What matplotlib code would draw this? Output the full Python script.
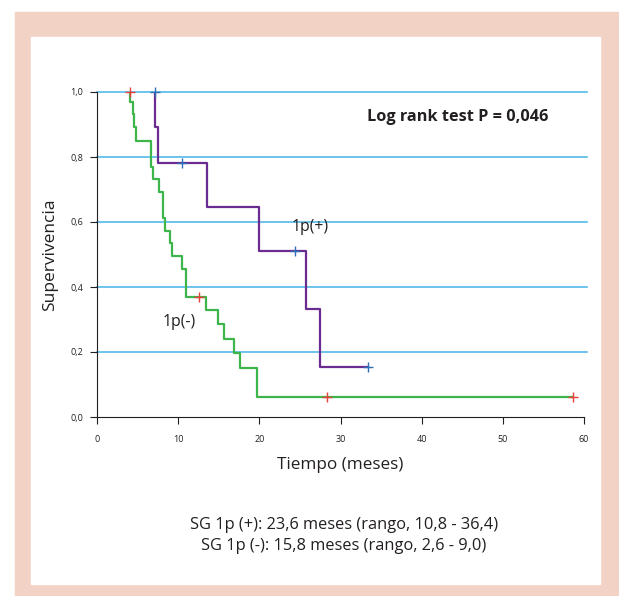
import matplotlib.pyplot as plt
from matplotlib.patches import Rectangle

plt.rcParams['font.family'] = ['Open Sans', 'DejaVu Sans']

# Kaplan-Meier steps, 1p(+)
pos_time: list[float] = [7.2, 7.2, 7.5, 13.5, 20.0, 25.8, 27.5, 33.4]
pos_surv: list[float] = [1.0, 0.893, 0.782, 0.645, 0.511, 0.331, 0.154, 0.154]
pos_cens_time: list[float] = [7.2, 10.5, 24.4, 33.4]
pos_cens_surv: list[float] = [1.0, 0.782, 0.511, 0.154]

# Kaplan-Meier steps, 1p(-)
neg_time: list[float] = [4.07, 4.07, 4.4, 4.6, 4.8, 6.63, 6.9, 7.6, 8.07, 8.4, 9.05, 9.3,
                         10.5, 10.95, 13.4, 14.85, 15.6, 16.9, 17.6, 19.7, 58.6]
neg_surv: list[float] = [1.0, 0.970, 0.931, 0.891, 0.849, 0.770, 0.733, 0.692, 0.613, 0.573,
                         0.534, 0.495, 0.454, 0.370, 0.329, 0.285, 0.240, 0.196, 0.152, 0.062, 0.062]
neg_cens_time: list[float] = [4.07, 12.6, 28.3, 58.6]
neg_cens_surv: list[float] = [1.0, 0.370, 0.062, 0.062]

y_ticks: list[float] = [0.0, 0.2, 0.4, 0.6, 0.8, 1.0]
y_labels: list[str] = ["0,0", "0,2", "0,4", "0,6", "0,8", "1,0"]
x_ticks: list[int] = [0, 10, 20, 30, 40, 50, 60]

W, H = 619, 596
fig = plt.figure(figsize=(W / 100, H / 100), dpi=100)

# pink frame
fig.patches.append(Rectangle((15 / W, 0), (W - 15) / W, (H - 12) / H,
                             transform=fig.transFigure, color="#f2d2c4", zorder=-2))
fig.patches.append(Rectangle((31 / W, (H - 584) / H), (600 - 31) / W, (584 - 37) / H,
                             transform=fig.transFigure, color="white", zorder=-1))

ax = fig.add_axes([97 / W, (H - 417) / H, (584 - 97) / W, (417 - 92) / H])
ax.patch.set_alpha(0)

for y in y_ticks[1:]:
    ax.plot([0, 60.4], [y, y], color="#45b4e8", lw=1.1, clip_on=False, zorder=1)

ax.plot(pos_time, pos_surv, drawstyle="steps-post", color="#6a2c91", lw=1.6, zorder=3)
ax.plot(neg_time, neg_surv, drawstyle="steps-post", color="#3db54a", lw=1.6, zorder=3)
ax.plot(pos_cens_time, pos_cens_surv, "+", color="#2f6fb7", ms=7, mew=1.0, zorder=4, clip_on=False)
ax.plot(neg_cens_time, neg_cens_surv, "+", color="#e8413c", ms=7, mew=1.0, zorder=4, clip_on=False)

ax.set_xlim(0, 60)
ax.set_ylim(0, 1.0)
ax.spines["top"].set_visible(False)
ax.spines["right"].set_visible(False)
ax.spines["left"].set_color("#231f20")
ax.spines["bottom"].set_color("#231f20")
ax.set_xticks(x_ticks)
ax.set_xticklabels([str(t) for t in x_ticks], fontsize=6.5, color="#231f20")
ax.set_yticks(y_ticks)
ax.set_yticklabels(y_labels, fontsize=6.5, color="#231f20")
ax.tick_params(direction="out", length=5, width=0.8, colors="#231f20")
ax.tick_params(axis="x", pad=8)
ax.tick_params(axis="y", pad=5)

ax.set_xlabel("Tiempo (meses)", fontsize=12.3, color="#231f20", va="center")
ax.set_ylabel("Supervivencia", fontsize=12.5, color="#231f20", va="center")
ax.xaxis.set_label_coords(0.5, (417 - 465) / 325)
ax.yaxis.set_label_coords((50 - 97) / 487, 0.5)

ax.text(33.3, 0.923, "Log rank test P = 0,046", fontsize=11.7, fontweight="bold",
        color="#231f20", va="center", ha="left")
ax.text(24.0, 0.585, "1p(+)", fontsize=11.3, color="#231f20", va="center", ha="left")
ax.text(8.1, 0.292, "1p(-)", fontsize=11.3, color="#231f20", va="center", ha="left")

fig.text(344 / W, 1 - 525 / H, "SG 1p (+): 23,6 meses (rango, 10,8 - 36,4)",
         fontsize=11.8, color="#231f20", ha="center", va="center")
fig.text(344 / W, 1 - 546 / H, "SG 1p (-): 15,8 meses (rango, 2,6 - 9,0)",
         fontsize=11.8, color="#231f20", ha="center", va="center")

fig.savefig("out.png", dpi=100)
